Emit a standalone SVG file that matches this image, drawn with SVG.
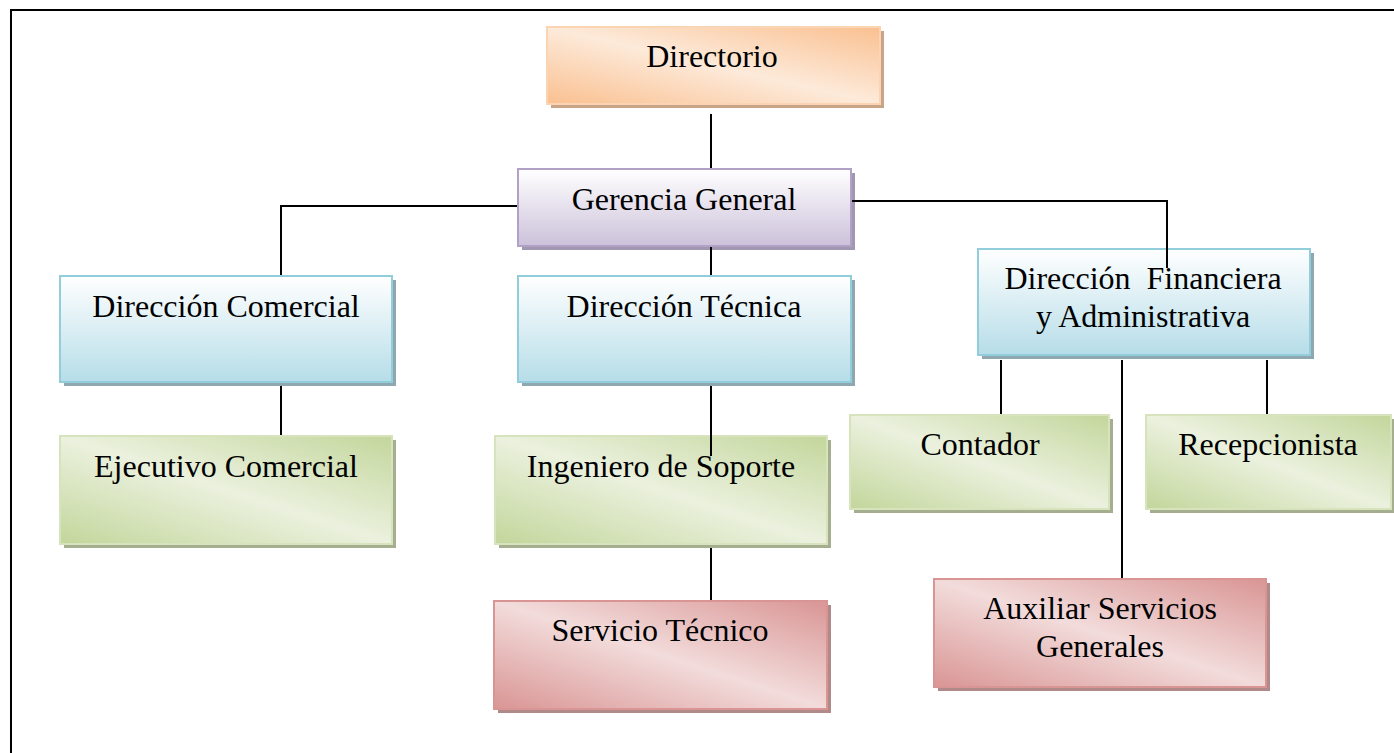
<svg xmlns="http://www.w3.org/2000/svg" width="1394" height="753" viewBox="0 0 1394 753">
  <style>
    .lbl { font-family: "Liberation Serif", "Times New Roman", serif; font-size: 32px; fill: #000; text-anchor: middle; }
    .wire { stroke: #000; stroke-width: 2; fill: none; }
    .orange { fill: url(#gOrange); stroke: #fbd4b4; stroke-width: 2; }
    .lav { fill: url(#gLav); stroke: #b2a1c7; stroke-width: 2; }
    .blue { fill: url(#gBlue); stroke: #92cddc; stroke-width: 2; }
    .green { fill: url(#gGreen); stroke: #d6e3bc; stroke-width: 2; }
    .pink { fill: url(#gPink); stroke: #d99594; stroke-width: 2; }
  </style>
  <defs>
    <linearGradient id="gOrange" x1="1" y1="0" x2="0" y2="1">
      <stop offset="0" stop-color="#fac090"/>
      <stop offset="0.5" stop-color="#fdeada"/>
      <stop offset="1" stop-color="#fac090"/>
    </linearGradient>
    <linearGradient id="gLav" x1="0" y1="0" x2="0" y2="1">
      <stop offset="0" stop-color="#ffffff"/>
      <stop offset="1" stop-color="#ccc1da"/>
    </linearGradient>
    <linearGradient id="gBlue" x1="0" y1="0" x2="0" y2="1">
      <stop offset="0" stop-color="#ffffff"/>
      <stop offset="1" stop-color="#b6dde8"/>
    </linearGradient>
    <linearGradient id="gGreen" x1="1" y1="0" x2="0" y2="1">
      <stop offset="0" stop-color="#c3d69b"/>
      <stop offset="0.5" stop-color="#ebf1de"/>
      <stop offset="1" stop-color="#c3d69b"/>
    </linearGradient>
    <linearGradient id="gPink" x1="1" y1="0" x2="0" y2="1">
      <stop offset="0" stop-color="#d99594"/>
      <stop offset="0.5" stop-color="#f2dcdb"/>
      <stop offset="1" stop-color="#d99594"/>
    </linearGradient>
  </defs>

  <rect width="1394" height="753" fill="#ffffff"/>
  <!-- page frame -->
  <rect x="11" y="10" width="1400" height="760" fill="none" stroke="#000" stroke-width="2"/>

  <g id="directorio">
    <rect x="551" y="31" width="333" height="77" fill="#c9a587"/>
    <rect class="orange" x="547" y="27" width="333" height="77"/>
    <text class="lbl" x="712" y="67">Directorio</text>
  </g>

  <g id="gerencia-general">
    <rect x="522" y="173" width="333" height="77" fill="#a197b0"/>
    <rect class="lav" x="518" y="169" width="333" height="77"/>
    <text class="lbl" x="684" y="210">Gerencia General</text>
  </g>

  <g id="direccion-comercial">
    <rect x="64" y="280" width="332" height="106" fill="#8fa8b0"/>
    <rect class="blue" x="60" y="276" width="332" height="106"/>
    <text class="lbl" x="226" y="317">Dirección Comercial</text>
  </g>

  <g id="direccion-tecnica">
    <rect x="522" y="280" width="333" height="106" fill="#8fa8b0"/>
    <rect class="blue" x="518" y="276" width="333" height="106"/>
    <text class="lbl" x="684" y="317">Dirección Técnica</text>
  </g>

  <g id="direccion-financiera">
    <rect x="982" y="253" width="332" height="106" fill="#8fa8b0"/>
    <rect class="blue" x="978" y="249" width="332" height="106"/>
    <text class="lbl" x="1143" y="289" xml:space="preserve">Dirección  Financiera</text>
    <text class="lbl" x="1143" y="327">y Administrativa</text>
  </g>

  <g id="ejecutivo-comercial">
    <rect x="64" y="440" width="332" height="108" fill="#a5ae8e"/>
    <rect class="green" x="60" y="436" width="332" height="108"/>
    <text class="lbl" x="226" y="477">Ejecutivo Comercial</text>
  </g>

  <g id="ingeniero-soporte">
    <rect x="499" y="440" width="332" height="108" fill="#a5ae8e"/>
    <rect class="green" x="495" y="436" width="332" height="108"/>
    <text class="lbl" x="661" y="477">Ingeniero de Soporte</text>
  </g>

  <g id="contador">
    <rect x="854" y="419" width="259" height="94" fill="#a5ae8e"/>
    <rect class="green" x="850" y="415" width="259" height="94"/>
    <text class="lbl" x="980" y="455">Contador</text>
  </g>

  <g id="recepcionista">
    <rect x="1150" y="419" width="245" height="94" fill="#a5ae8e"/>
    <rect class="green" x="1146" y="415" width="245" height="94"/>
    <text class="lbl" x="1268" y="455">Recepcionista</text>
  </g>

  <g id="servicio-tecnico">
    <rect x="498" y="605" width="333" height="108" fill="#b08a89"/>
    <rect class="pink" x="494" y="601" width="333" height="108"/>
    <text class="lbl" x="660" y="641">Servicio Técnico</text>
  </g>

  <g id="auxiliar-servicios">
    <rect x="938" y="583" width="332" height="108" fill="#b08a89"/>
    <rect class="pink" x="934" y="579" width="332" height="108"/>
    <text class="lbl" x="1100" y="619">Auxiliar Servicios</text>
    <text class="lbl" x="1100" y="657">Generales</text>
  </g>

  <!-- connectors (drawn last: two of them run into the boxes they join) -->
  <g id="connectors">
    <line class="wire" x1="711" y1="114" x2="711" y2="168"/>
    <polyline class="wire" points="517,206 281,206 281,275"/>
    <polyline class="wire" points="852,201 1167,201 1167,268"/>
    <line class="wire" x1="711" y1="247" x2="711" y2="275"/>
    <line class="wire" x1="281" y1="386" x2="281" y2="435"/>
    <line class="wire" x1="711" y1="386" x2="711" y2="456"/>
    <line class="wire" x1="711" y1="548" x2="711" y2="600"/>
    <line class="wire" x1="1001" y1="360" x2="1001" y2="414"/>
    <line class="wire" x1="1267" y1="360" x2="1267" y2="414"/>
    <line class="wire" x1="1122" y1="360" x2="1122" y2="578"/>
  </g>
</svg>
